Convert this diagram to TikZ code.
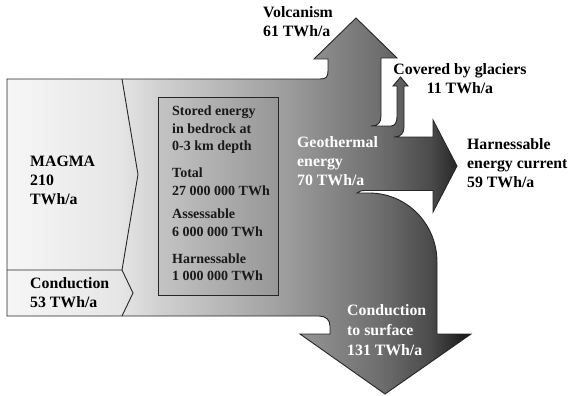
\documentclass[tikz,border=0pt]{standalone}
\usepackage{fontspec}
\setmainfont{Liberation Serif}
\definecolor{g0}{gray}{0.965}
\definecolor{g1}{gray}{0.902}
\definecolor{g2}{gray}{0.816}
\definecolor{g3}{gray}{0.627}
\definecolor{g4}{gray}{0.431}
\definecolor{g5}{gray}{0.294}
\definecolor{g6}{gray}{0.078}
\pgfdeclarehorizontalshading{geoshade}{100bp}{color(0bp)=(g0); color(25bp)=(g0); color(37bp)=(g1); color(41.5bp)=(g2); color(54.4bp)=(g3); color(65.2bp)=(g4); color(70.6bp)=(g5); color(75bp)=(g6); color(100bp)=(g6)}
\tikzset{
  lbl/.style={anchor=north west, inner sep=0pt, align=left, font=\fontsize{15.8}{19}\selectfont\bfseries},
  wlbl/.style={lbl, text=white},
  boxtxt/.style={anchor=north west, inner sep=0pt, align=left, font=\fontsize{14}{17.6}\selectfont\bfseries, text=black!90},
  outline/.style={draw=black!85, line width=0.9pt, line join=miter}
}
\begin{document}
\begin{tikzpicture}[x=1pt,y=-1pt]
\useasboundingbox (0,0) rectangle (570,396);
% main flow shape
\path[outline, shading=geoshade]
  (7,79) -- (320,79) .. controls (326,79) and (328,77) .. (328,71) -- (328,59)
  -- (314,59) -- (356,18) -- (397,58) -- (381,58)
  -- (381,116) .. controls (381,123) and (378,126) .. (371,126)
  -- (391,126) .. controls (395,126) and (397,122) .. (397,117)
  -- (397,86) -- (393,86) -- (400.5,77) -- (408,86) -- (404,86)
  -- (404,127) .. controls (404,133) and (401,137) .. (394,137)
  -- (433,137) -- (433,120) -- (457,166) -- (433,212) -- (433,190.5)
  -- (365,190.5) .. controls (361,190.5) and (359,191.5) .. (357,193)
  -- (369,193) .. controls (407,193) and (437,224) .. (437,262)
  -- (437,334) -- (471,334) -- (385,394) -- (300,334) -- (330,334)
  -- (330,326) .. controls (330,320) and (326,316) .. (319,316)
  -- (7,316) -- cycle;
% left partitions
\draw[outline] (122,79) -- (138,174.5) -- (122,270);
\draw[outline] (7,270) -- (122,270) -- (133,293) -- (122,316);
% stored energy box
\draw[outline, fill=black, fill opacity=0.06] (158,97) rectangle (278,295);
% labels
\node[lbl] (volc) at (263,6.6) {Volcanism\\61 TWh/a};
\node[lbl, anchor=north, align=center] (glac) at (460,63.3) {Covered by glaciers\\11 TWh/a};
\node[lbl] (harn) at (467,138.3) {Harnessable\\energy current\\59 TWh/a};
\node[wlbl] (geo) at (297,136.3) {Geothermal\\energy\\70 TWh/a};
\node[lbl] (magma) at (30,156) {MAGMA\\210\\TWh/a};
\node[lbl] (cond) at (30,277) {Conduction\\53 TWh/a};
\node[wlbl, font=\fontsize{15.8}{20}\selectfont\bfseries] (surf) at (347,304.3) {Conduction\\to surface\\131 TWh/a};
\node[boxtxt] (stored) at (172,105.5) {Stored energy\\in bedrock at\\0-3 km depth};
\node[boxtxt] (total) at (172,167.5) {Total\\27 000 000 TWh};
\node[boxtxt] (assess) at (172,208.5) {Assessable\\6 000 000 TWh};
\node[boxtxt] (harnbox) at (172,253.2) {Harnessable\\1 000 000 TWh};
\end{tikzpicture}
\end{document}
